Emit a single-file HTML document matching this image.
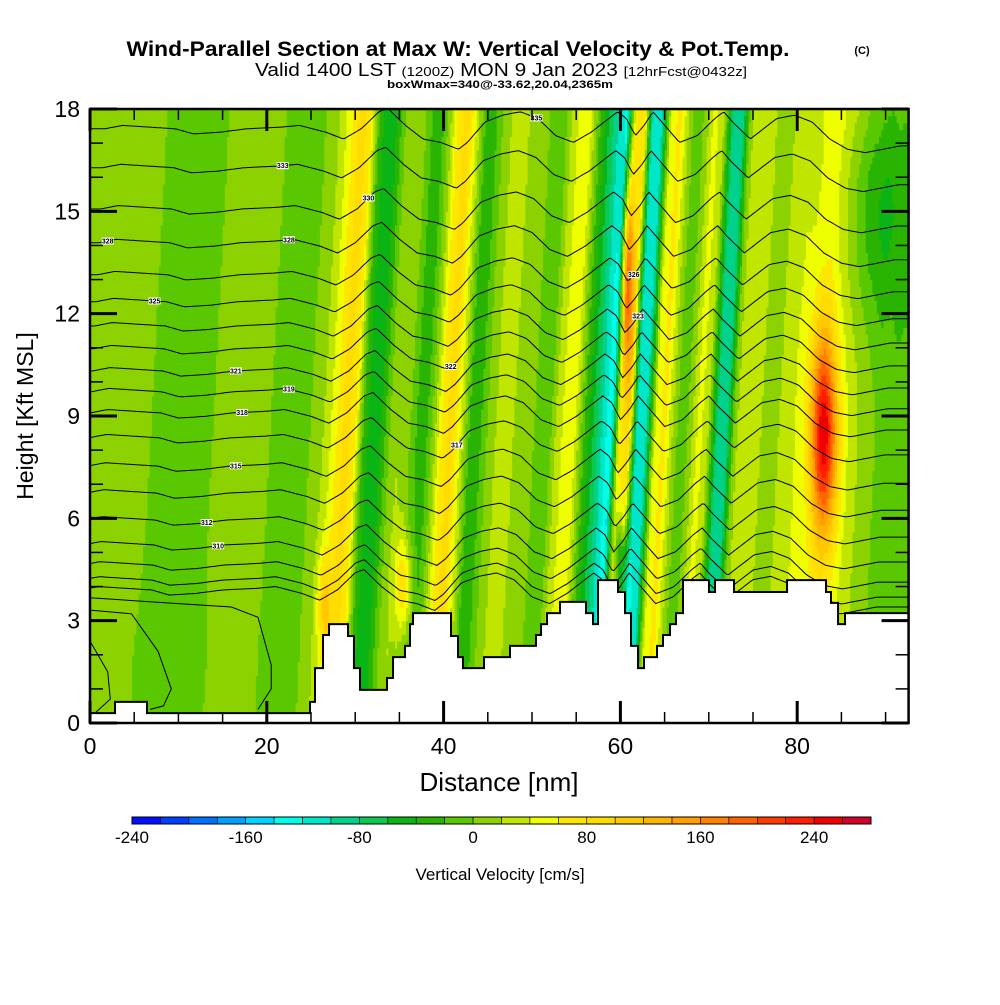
<!DOCTYPE html>
<html><head><meta charset="utf-8"><style>
body{margin:0;background:#fff}
svg text{font-family:"Liberation Sans",sans-serif}
</style></head><body>
<svg id="chart" xmlns="http://www.w3.org/2000/svg" width="1000" height="1000" viewBox="0 0 1000 1000">
<rect width="1000" height="1000" fill="#fff"/>
<text x="458" y="56" text-anchor="middle" font-size="21" font-weight="bold" textLength="663" lengthAdjust="spacingAndGlyphs">Wind-Parallel Section at Max W: Vertical Velocity &amp; Pot.Temp.</text>
<text x="862" y="54" text-anchor="middle" font-size="11" font-weight="bold">(C)</text>
<text x="501" y="76" text-anchor="middle" font-size="18" textLength="492" lengthAdjust="spacingAndGlyphs">Valid 1400 LST <tspan font-size="13">(1200Z)</tspan> MON 9 Jan 2023 <tspan font-size="13">[12hrFcst@0432z]</tspan></text>
<text x="500" y="88" text-anchor="middle" font-size="11" font-weight="bold" textLength="226" lengthAdjust="spacingAndGlyphs">boxWmax=340@-33.62,20.04,2365m</text>
<g id="field"></g>
<g id="isen" fill="none" stroke="#000" stroke-width="1"></g>
<g id="terrain"></g>
<g id="labels"></g>
<g id="axes"></g>
<text x="499" y="791" text-anchor="middle" font-size="26">Distance [nm]</text>
<text transform="translate(33,416) rotate(-90)" text-anchor="middle" font-size="23">Height [Kft MSL]</text>
<g id="cbar"></g>
<text x="500" y="880" text-anchor="middle" font-size="17">Vertical Velocity [cm/s]</text>
</svg>
<script>
const profW=[10,10,10,10,10,10,10,0,-10,-10,-10,-10,-10,-10,0,10,10,10,10,10,10,-10,-10,-10,-10,0,10,30,60,90,70,-20,-60,-40,0,20,10,-20,-30,10,70,90,40,-20,-30,0,20,30,20,10,10,-20,-10,30,50,40,-20,-60,-100,-140,60,80,-120,-100,40,70,20,-20,10,50,20,-80,-100,10,40,30,20,10,20,30,40,40,50,60,50,40,30,20,10,0,0,-10,-10];
const featX=[83,60.8,60,89,8,35.5,26.5];
const featH=[8.5,13,4.5,15,1.5,4,3.5];
const featRx=[1.5,0.7,0.7,4,10,1,0.8];
const featRh=[3,3,1.5,3.5,2.5,1.5,1.5];
const featW=[200,130,-120,-50,-8,80,60];
const binColors=["#0010ff","#0040ff","#0070ff","#00a0ff","#00d2ff","#00ffe6","#00e6c8","#00d28c","#0ac850","#0ab414","#28b400","#5ac800","#8cd200","#c0e600","#f0ff00","#ffe600","#ffdc00","#ffc800","#ffb400","#ffa000","#ff8200","#ff6400","#ff3c00","#ff1e00","#f00000","#d2002d"];
const cbarTicks=[-240,-160,-80,0,80,160,240];
const terrX=[0,2.83,6.45,24.89,25.45,26.36,27.04,29.19,29.86,30.54,33.60,34.28,35.63,36.20,36.54,40.84,41.63,42.19,44.57,47.51,50.45,51.02,51.70,53.17,56.11,56.90,57.47,59.73,60.52,61.20,61.99,62.67,64.14,64.82,65.61,66.29,67.08,70.02,70.70,72.85,78.85,83.26,83.82,84.62,85.41];
const terrH=[0.29,0.62,0.29,0.62,1.61,2.58,2.90,2.55,1.61,0.97,1.32,1.93,2.26,2.90,3.22,2.55,1.93,1.61,1.93,2.26,2.58,2.90,3.22,3.55,3.22,2.90,4.19,3.84,3.22,2.26,1.61,1.93,2.26,2.58,2.90,3.22,4.19,3.84,4.19,3.84,4.19,3.84,3.52,2.90,3.22];
const isenLevels=[17.42,16.28,15.07,14.08,13.14,12.35,11.64,10.97,10.32,9.71,9.09,8.36,7.53,6.74,5.95,5.22,4.63,4.19,3.9];
const dispX=[0,2,5,8,10,13,16,20,22,25,27,29,31,32,34,36,38,40,41,43,45,47,49,51,53,55,57,58,59,60,61,62,63,65,67,69,70,71,73,74,76,78,80,82,84,86,88,90,92.6];
const dispD=[0,0.1,0.05,0,-0.15,-0.1,0,0.05,0.1,-0.1,-0.3,0,0.5,0.6,0.1,-0.3,-0.4,-0.6,-0.4,0.2,0.4,0.5,0.3,-0.2,-0.4,-0.1,0.3,0.5,0.3,-0.2,0.1,0.5,0.2,-0.4,-0.2,0.3,0.5,0.2,-0.3,-0.1,0.3,0.4,0.2,-0.3,-0.6,-0.7,-0.6,-0.5,-0.5];
const low1X=[0,10,16,19,20.5,20.5,19],low1H=[3.67,3.5,3.4,3.1,1.7,1.0,0.4];
const low2X=[0,4.7,7.7,9.2,8.3,6.8],low2H=[3.31,3.2,2.1,1.0,0.5,0.4];
const low3X=[0,2.0,2.3,0.6],low3H=[2.4,1.5,0.7,0.3];
const labelLine=[1,3,5,8,10,12,14,15,0,3,9,11,2,7,4,6];
const labelX=[21.8,2,7.3,16.5,17.2,16.5,13.2,14.5,50.5,22.5,22.5,41.5,31.5,40.8,61.5,62];
const xTicks=[0,20,40,60,80], yTicks=[0,3,6,9,12,15,18];
const NS='http://www.w3.org/2000/svg';
const X0=90,PXN=8.84,Y0=723,PXK=34.11,XMAX=92.6,HMAX=18;
const sx=v=>X0+v*PXN, sy=h=>Y0-h*PXK;
function mk(tag,attrs,parent){const e=document.createElementNS(NS,tag);for(const k in attrs)e.setAttribute(k,attrs[k]);parent.appendChild(e);return e;}
function interp(xs,ys,x){if(x<=xs[0])return ys[0];for(let i=1;i<xs.length;i++){if(x<=xs[i]){const t=(x-xs[i-1])/(xs[i]-xs[i-1]);return ys[i-1]+t*(ys[i]-ys[i-1]);}}return ys[ys.length-1];}
const profX=profW.map((_,i)=>i);
function wval(x,h){let v=interp(profX,profW,x-0.2*(h-9));for(let i=0;i<featX.length;i++){const dx=(x-featX[i])/featRx[i],dh=(h-featH[i])/featRh[i];v+=featW[i]*Math.exp(-(dx*dx+dh*dh));}return v;}
function bin(v){return Math.max(0,Math.min(25,Math.floor((v+240)/20)));}
const field=document.getElementById('field');
const dxs=0.25,dhs=0.2,NX=Math.ceil(XMAX/dxs),NH=Math.ceil(HMAX/dhs);
function cell(x0,x1,h,b){const r=mk('rect',{x:sx(x0).toFixed(1),y:sy(h+dhs).toFixed(1),width:(PXN*(x1-x0)+0.6).toFixed(1),height:(PXK*dhs+0.6).toFixed(1),fill:binColors[b]},field);
 
 }
for(let j=0;j<NH;j++){const h=j*dhs;let runStart=0,runBin=bin(wval(dxs/2,h+dhs/2));
 for(let i=1;i<NX;i++){const x=i*dxs;const b=bin(wval(x+dxs/2,h+dhs/2));
  if(b!==runBin){cell(runStart,x,h,runBin);runStart=x;runBin=b;}}
 cell(runStart,XMAX,h,runBin);}
const isen=document.getElementById('isen');
isenLevels.forEach((L,i)=>{const pts=[];for(let k=0;k<=NX;k++){const x=Math.min(k*dxs,XMAX);pts.push([sx(x),sy(L+interp(dispX,dispD,x-0.2*(L-9)))]);}
 const p=mk('polyline',{points:pts.map(p=>p[0].toFixed(1)+','+p[1].toFixed(1)).join(' ')},isen);
 
 });
[[low1X,low1H],[low2X,low2H],[low3X,low3H]].forEach(([xs,hs])=>{const p=mk('polyline',{points:xs.map((x,i)=>sx(x).toFixed(1)+','+sy(hs[i]).toFixed(1)).join(' ')},isen);
 
 });
const defs=mk('defs',{},document.getElementById('chart'));
const cp=mk('clipPath',{id:'pc'},defs);mk('rect',{x:X0,y:sy(HMAX),width:PXN*XMAX,height:PXK*HMAX},cp);
isen.setAttribute('clip-path','url(#pc)');field.setAttribute('clip-path','url(#pc)');
const tg=document.getElementById('terrain');
let tp=[];for(let i=0;i<terrX.length;i++){const xe=i+1<terrX.length?terrX[i+1]:XMAX;tp.push([sx(terrX[i]),sy(terrH[i])],[sx(xe),sy(terrH[i])]);}
const tpoly=mk('polygon',{points:tp.map(p=>p.join(',')).join(' ')+` ${sx(XMAX)},${Y0} ${X0},${Y0}`,fill:'#fff'},tg);


const tline=mk('polyline',{points:tp.map(p=>p.join(',')).join(' '),fill:'none',stroke:'#000','stroke-width':2},tg);


const lg=document.getElementById('labels');
labelLine.forEach((li,k)=>{const L=isenLevels[li],x=labelX[k];const px=sx(x),py=sy(L+interp(dispX,dispD,x-0.2*(L-9)));
 const g=mk('g',{},lg);
 
 
 mk('rect',{x:px-6,y:py-3.5,width:12,height:7,fill:'#fff'},g);
 const t=mk('text',{x:px,y:py+2.5,'text-anchor':'middle','font-size':7,'font-weight':'bold'},g);t.textContent=String(Math.round(300+L*2));});
const ax=document.getElementById('axes');
const fr=mk('rect',{x:X0,y:sy(HMAX),width:PXN*XMAX,height:PXK*HMAX,fill:'none',stroke:'#000','stroke-width':2.5},ax);


for(let v=0;v<=90;v+=5){const maj=v%20===0,len=maj?22:11,w=maj?3:1.5;
 mk('line',{x1:sx(v),x2:sx(v),y1:Y0,y2:Y0-len,stroke:'#000','stroke-width':w},ax);
 mk('line',{x1:sx(v),x2:sx(v),y1:sy(HMAX),y2:sy(HMAX)+len,stroke:'#000','stroke-width':w},ax);}
for(let v=0;v<=18;v++){const maj=v%3===0,len=maj?27:13,w=maj?3:1.5;
 mk('line',{x1:X0,x2:X0+len,y1:sy(v),y2:sy(v),stroke:'#000','stroke-width':w},ax);
 mk('line',{x1:sx(XMAX),x2:sx(XMAX)-len,y1:sy(v),y2:sy(v),stroke:'#000','stroke-width':w},ax);}
xTicks.forEach(v=>{const t=mk('text',{x:sx(v),y:754,'text-anchor':'middle','font-size':23},ax);t.textContent=v;
 
 });
yTicks.forEach(v=>{const t=mk('text',{x:80,y:sy(v)+8,'text-anchor':'end','font-size':23},ax);t.textContent=v;
 
 });
const cb=document.getElementById('cbar');const CB0=132,CBW=739/26;
binColors.forEach((c,i)=>{const r=mk('rect',{x:CB0+i*CBW,y:817,width:CBW,height:7,fill:c,stroke:'#000','stroke-width':0.6},cb);
 
 });
mk('rect',{x:CB0,y:817,width:739,height:7,fill:'none',stroke:'#000','stroke-width':1},cb);
cbarTicks.forEach(v=>{const t=mk('text',{x:CB0+(v+240)/20*CBW,y:843,'text-anchor':'middle','font-size':17},cb);t.textContent=v;
 
 });
</script>
</body></html>
